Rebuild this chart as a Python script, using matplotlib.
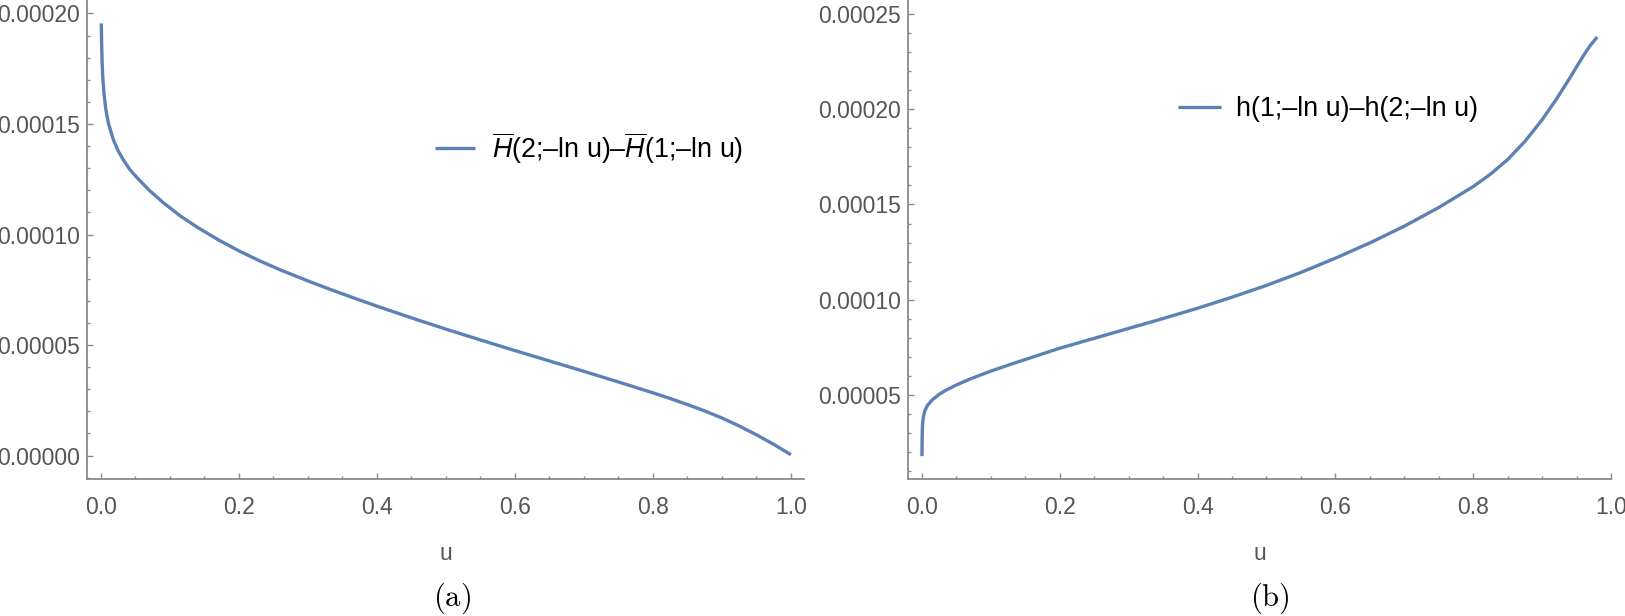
import matplotlib
matplotlib.use("Agg")
import matplotlib.pyplot as plt
from matplotlib.ticker import MultipleLocator, FormatStrFormatter

plt.rcParams['font.family'] = ['Liberation Sans', 'DejaVu Sans']
plt.rcParams['mathtext.fontset'] = 'custom'
plt.rcParams['mathtext.rm'] = 'Liberation Sans'
plt.rcParams['mathtext.it'] = 'Liberation Sans:italic'

# ---- data (a) ----
u_a = [0.00045, 0.0008, 0.0015, 0.0025, 0.0044, 0.007, 0.0107, 0.018, 0.025,
       0.0325, 0.042, 0.052, 0.07, 0.0907, 0.115, 0.139, 0.17, 0.2, 0.23, 0.26,
       0.3, 0.333, 0.37, 0.4, 0.45, 0.5, 0.55, 0.6, 0.65, 0.7, 0.75, 0.8, 0.825,
       0.85, 0.875, 0.9, 0.925, 0.95, 0.975, 1.0]
y_a = [0.0001955, 0.0001880, 0.0001789, 0.0001715, 0.0001634, 0.0001566,
       0.0001504, 0.0001428, 0.0001378, 0.0001337, 0.0001293, 0.0001258,
       0.0001200, 0.0001143, 0.0001084, 0.0001034, 0.0000976, 0.0000926,
       0.0000881, 0.0000840, 0.0000790, 0.0000751, 0.0000709, 0.0000676,
       0.0000623, 0.0000572, 0.0000523, 0.0000475, 0.0000428, 0.0000381,
       0.0000333, 0.0000284, 0.0000258, 0.0000231, 0.0000202, 0.0000170,
       0.0000134, 0.0000094, 0.0000051, 0.0000004]

# ---- data (b) ----
u_b = [0.0, 0.0002, 0.0005, 0.001, 0.002, 0.004, 0.008, 0.015, 0.025, 0.035,
       0.05, 0.069, 0.1, 0.135, 0.2, 0.25, 0.3, 0.35, 0.4, 0.45, 0.5, 0.55,
       0.6, 0.65, 0.7, 0.75, 0.8, 0.825, 0.85, 0.875, 0.9, 0.92, 0.94, 0.96,
       0.97, 0.98]
y_b = [0.0000178, 0.0000265, 0.0000320, 0.0000355, 0.0000385, 0.0000415,
       0.0000445, 0.0000474, 0.0000503, 0.0000525, 0.0000552, 0.0000582,
       0.0000625, 0.0000668, 0.0000745, 0.0000797, 0.0000849, 0.0000901,
       0.0000955, 0.0001013, 0.0001075, 0.0001143, 0.0001218, 0.0001298,
       0.0001386, 0.0001484, 0.0001594, 0.0001659, 0.0001736, 0.0001831,
       0.0001945, 0.0002049, 0.0002163, 0.0002282, 0.0002336, 0.0002380]

label_a = r'$\overline{H}$(2;–ln u)–$\overline{H}$(1;–ln u)'
label_b = 'h(1;–ln u)–h(2;–ln u)'
x_ticks = [0.0, 0.2, 0.4, 0.6, 0.8, 1.0]

line_color = '#5E81B5'
axis_color = '#8a8a8a'
text_color = '#555555'
W, H = 1625, 616

fig = plt.figure(figsize=(W / 100, H / 100), dpi=100)


def style(ax, ymajor):
    for s in ['top', 'right']:
        ax.spines[s].set_visible(False)
    for s in ['left', 'bottom']:
        ax.spines[s].set_color(axis_color)
        ax.spines[s].set_linewidth(1.3)
    ax.set_xticks(x_ticks)
    ax.xaxis.set_major_formatter(FormatStrFormatter('%.1f'))
    ax.xaxis.set_minor_locator(MultipleLocator(0.05))
    ax.yaxis.set_major_locator(MultipleLocator(ymajor))
    ax.yaxis.set_minor_locator(MultipleLocator(ymajor / 5))
    ax.yaxis.set_major_formatter(FormatStrFormatter('%.5f'))
    ax.tick_params(which='both', direction='in', color=axis_color, width=1.0,
                   labelcolor=text_color, labelsize=16.5)
    ax.tick_params(which='major', length=4)
    ax.tick_params(which='minor', length=2.5)
    ax.tick_params(axis='x', which='major', pad=12)
    ax.tick_params(axis='y', which='major', pad=5)
    ax.set_xlabel('u', color=text_color, fontsize=16.5, labelpad=17)


# panel (a)
ax1 = fig.add_axes([87 / W, 1 - 479 / H, (804 - 87) / W, 479 / H])
ax1.plot(u_a, y_a, color=line_color, lw=2.4, label=label_a,
         solid_capstyle='butt', solid_joinstyle='round')
ax1.set_xlim(-0.0203, 1.019)
ax1.set_ylim(-0.0000106, 0.0002061)
style(ax1, 0.00005)
ax1.legend(loc='center left', bbox_to_anchor=(435 / W, 1 - 148 / H),
           bbox_transform=fig.transFigure, frameon=False, fontsize=19.4,
           handlelength=1.5, handletextpad=0.6, borderpad=0, borderaxespad=0)

# panel (b)
ax2 = fig.add_axes([908 / W, 1 - 479 / H, (1611 - 908) / W, 479 / H])
ax2.plot(u_b, y_b, color=line_color, lw=2.4, label=label_b,
         solid_capstyle='butt', solid_joinstyle='round')
ax2.set_xlim(-0.0203, 1.0)
ax2.set_ylim(0.0000058, 0.0002574)
style(ax2, 0.00005)
ax2.legend(loc='center left', bbox_to_anchor=(1178 / W, 1 - 109 / H),
           bbox_transform=fig.transFigure, frameon=False, fontsize=19.4,
           handlelength=1.6, handletextpad=0.55, borderpad=0, borderaxespad=0)

# captions
fig.text(452 / W, 1 - 598 / H, r'$\mathrm{(a)}$', math_fontfamily='cm',
         fontsize=22, ha='center', va='center', color='black')
fig.text(1270 / W, 1 - 598 / H, r'$\mathrm{(b)}$', math_fontfamily='cm',
         fontsize=22, ha='center', va='center', color='black')

fig.savefig('out.png', dpi=100)
